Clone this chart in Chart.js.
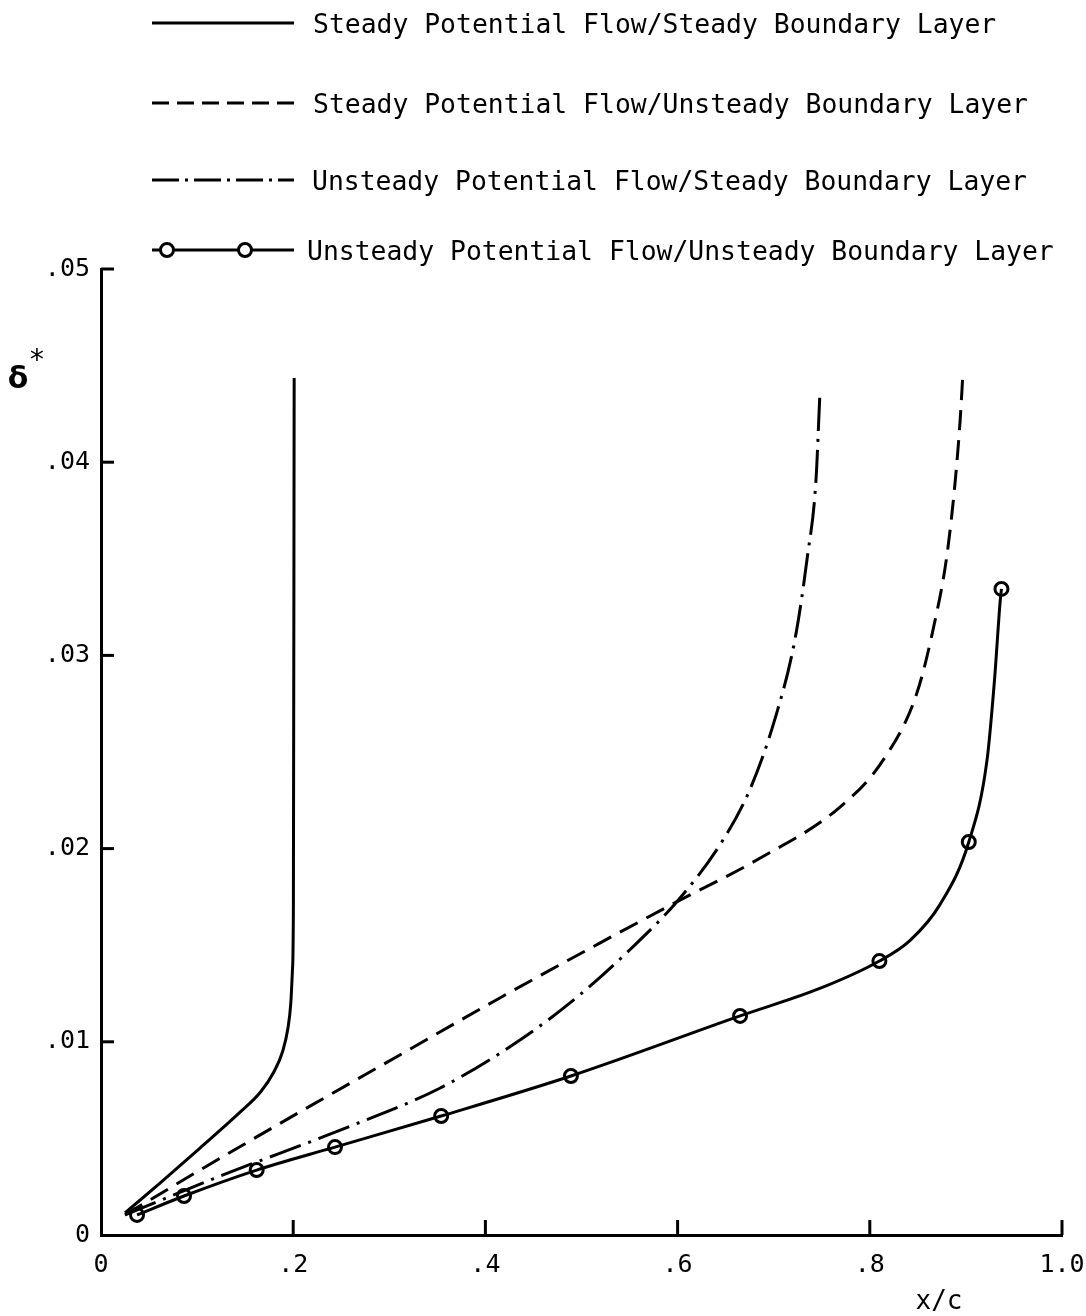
<!DOCTYPE html>
<html>
<head>
<meta charset="utf-8">
<script src="https://cdn.jsdelivr.net/npm/chart.js@4.4.1/dist/chart.umd.min.js"></script>
<style>
  html, body { margin: 0; padding: 0; background: #fff; }
  #wrap { width: 1086px; height: 1316px; position: relative; }
</style>
</head>
<body>
<div id="wrap"><canvas id="c" width="1086" height="1316"></canvas></div>
<script>
// Series names (legend order)
const seriesNames = [
  'Steady Potential Flow/Steady Boundary Layer',
  'Steady Potential Flow/Unsteady Boundary Layer',
  'Unsteady Potential Flow/Steady Boundary Layer',
  'Unsteady Potential Flow/Unsteady Boundary Layer'
];

// Axis ticks
const xTickValues = [0, 0.2, 0.4, 0.6, 0.8, 1.0];
const xTickLabels = ['0', '.2', '.4', '.6', '.8', '1.0'];
const yTickValues = [0, 0.01, 0.02, 0.03, 0.04, 0.05];
const yTickLabels = ['0', '.01', '.02', '.03', '.04', '.05'];

// Steady potential flow / steady boundary layer
const xSS = [0.025, 0.0614, 0.103, 0.145, 0.166, 0.180, 0.189, 0.1945, 0.1975, 0.1992, 0.2002, 0.2010];
const ySS = [0.00114, 0.00269, 0.00450, 0.00637, 0.00740, 0.00845, 0.00950, 0.01070, 0.01200, 0.01370, 0.01700, 0.04436];

// Steady potential flow / unsteady boundary layer
const xSU = [0.025, 0.103, 0.207, 0.311, 0.415, 0.519, 0.599, 0.686, 0.769, 0.814, 0.849, 0.868, 0.880, 0.889, 0.894, 0.897];
const ySU = [0.00104, 0.00336, 0.00637, 0.00932, 0.01227, 0.01511, 0.01724, 0.01951, 0.02215, 0.02459, 0.02805, 0.03183, 0.03509, 0.03908, 0.04218, 0.04467];

// Unsteady potential flow / steady boundary layer
const xUS = [0.025, 0.127, 0.249, 0.353, 0.436, 0.498, 0.550, 0.599, 0.644, 0.675, 0.701, 0.722, 0.735, 0.744, 0.748];
const yUS = [0.00104, 0.00311, 0.00543, 0.00761, 0.01009, 0.01242, 0.01475, 0.01724, 0.02019, 0.02303, 0.02666, 0.03080, 0.03509, 0.03908, 0.04348];

// Unsteady potential flow / unsteady boundary layer: computed stations (circles)
const xUU = [0.0375, 0.0864, 0.162, 0.2435, 0.354, 0.489, 0.665, 0.810, 0.903, 0.937];
const yUU = [0.00104, 0.00202, 0.00336, 0.00455, 0.00616, 0.00823, 0.01134, 0.01418, 0.02034, 0.03344];

// Faired curve drawn through those stations
const xUUCurve = [0.0375, 0.0864, 0.162, 0.2435, 0.354, 0.489, 0.665, 0.750, 0.810, 0.842, 0.873, 0.903, 0.922, 0.930, 0.9355, 0.937];
const yUUCurve = [0.00104, 0.00202, 0.00336, 0.00455, 0.00616, 0.00823, 0.01134, 0.01280, 0.01418, 0.01525, 0.01710, 0.02034, 0.02459, 0.02888, 0.03271, 0.03344];

const pts = (xs, ys) => xs.map((x, i) => ({ x: x, y: ys[i] }));

const FONT = '"DejaVu Sans Mono", "Liberation Mono", monospace';

const lineBase = {
  borderColor: '#000',
  borderWidth: 3,
  pointRadius: 0,
  fill: false,
  cubicInterpolationMode: 'monotone'
};

const styles = [
  { dash: [], legendDash: [], markers: false },
  { dash: [20, 10], legendDash: [17, 8], markers: false },
  { dash: [33, 8, 3, 8], legendDash: [27, 6, 3, 6], markers: false },
  { dash: [], legendDash: [], markers: true }
];

// Inward tick marks, axis titles and the stacked legend above the plot
const decorations = {
  id: 'decorations',
  afterDraw(chart) {
    const ctx = chart.ctx;
    const xs = chart.scales.x, ys = chart.scales.y;
    const area = chart.chartArea;
    ctx.save();
    ctx.strokeStyle = '#000';
    ctx.fillStyle = '#000';
    ctx.lineWidth = 3;
    ctx.lineCap = 'butt';
    ctx.setLineDash([]);
    xTickValues.slice(1).forEach(v => {
      const px = xs.getPixelForValue(v);
      ctx.beginPath();
      ctx.moveTo(px, area.bottom);
      ctx.lineTo(px, area.bottom - 15);
      ctx.stroke();
    });
    yTickValues.slice(1).forEach(v => {
      const py = ys.getPixelForValue(v);
      ctx.beginPath();
      ctx.moveTo(area.left, py);
      ctx.lineTo(area.left + 13, py);
      ctx.stroke();
    });

    // axis titles
    ctx.textAlign = 'center';
    ctx.textBaseline = 'middle';
    ctx.font = 'bold 30px "DejaVu Sans", sans-serif';
    ctx.fillText('\u03B4', 18, 380);
    ctx.font = '28px ' + FONT;
    ctx.fillText('*', 37, 362);
    ctx.font = '26px ' + FONT;
    ctx.fillText('x/c', 939, 1302);

    // legend
    const rowsY = [23, 103, 180, 250];
    const textX = [313, 313, 312, 307];
    ctx.textAlign = 'left';
    ctx.textBaseline = 'alphabetic';
    ctx.font = '26.4px ' + FONT;
    seriesNames.forEach((name, i) => {
      const y = rowsY[i];
      ctx.lineWidth = 3;
      ctx.setLineDash(styles[i].legendDash);
      ctx.beginPath();
      ctx.moveTo(152, y);
      ctx.lineTo(294, y);
      ctx.stroke();
      ctx.setLineDash([]);
      if (styles[i].markers) {
        [167, 245].forEach(cx => {
          ctx.beginPath();
          ctx.arc(cx, y, 6.5, 0, Math.PI * 2);
          ctx.fillStyle = '#fff';
          ctx.fill();
          ctx.lineWidth = 3;
          ctx.stroke();
        });
        ctx.fillStyle = '#000';
      }
      ctx.fillText(name, textX[i], y + 10);
    });
    ctx.restore();
  }
};

new Chart(document.getElementById('c'), {
  type: 'line',
  data: {
    datasets: [
      Object.assign({}, lineBase, { label: seriesNames[0], data: pts(xSS, ySS), borderDash: styles[0].dash }),
      Object.assign({}, lineBase, { label: seriesNames[1], data: pts(xSU, ySU), borderDash: styles[1].dash }),
      Object.assign({}, lineBase, { label: seriesNames[2], data: pts(xUS, yUS), borderDash: styles[2].dash }),
      Object.assign({}, lineBase, { label: seriesNames[3], data: pts(xUUCurve, yUUCurve), borderDash: styles[3].dash }),
      {
        label: seriesNames[3] + ' (stations)',
        data: pts(xUU, yUU),
        showLine: false,
        pointRadius: 6.5, pointBorderWidth: 3,
        pointBackgroundColor: '#fff', pointBorderColor: '#000'
      }
    ]
  },
  options: {
    responsive: false,
    devicePixelRatio: 1,
    animation: false,
    layout: { padding: { top: 269, right: 24, left: 0, bottom: 0 } },
    plugins: { legend: { display: false }, tooltip: { enabled: false } },
    scales: {
      x: {
        type: 'linear',
        min: 0, max: 1,
        afterFit(scale) { scale.height = 81; scale.paddingLeft = 0; scale.paddingRight = 0; },
        afterBuildTicks(scale) { scale.ticks = xTickValues.map(v => ({ value: v })); },
        grid: { display: false, drawTicks: false },
        border: { display: true, color: '#000', width: 3 },
        ticks: {
          color: '#000', padding: 15,
          font: { family: FONT, size: 25 },
          maxRotation: 0,
          callback: (v, i) => xTickLabels[i]
        }
      },
      y: {
        type: 'linear',
        min: 0, max: 0.05,
        afterFit(scale) { scale.width = 101; scale.paddingTop = 0; scale.paddingBottom = 0; },
        afterBuildTicks(scale) { scale.ticks = yTickValues.map(v => ({ value: v })); },
        grid: { display: false, drawTicks: false },
        border: { display: true, color: '#000', width: 3 },
        ticks: {
          color: '#000', padding: 11,
          font: { family: FONT, size: 25 },
          callback: (v, i) => yTickLabels[i]
        }
      }
    }
  },
  plugins: [decorations]
});
</script>
</body>
</html>
